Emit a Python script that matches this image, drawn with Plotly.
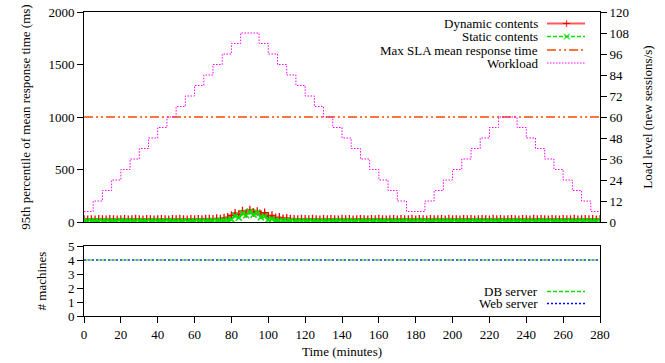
import plotly.graph_objects as go

# ---------------- data ----------------
time_step_min = 2
dynamic_ms = [
    24, 22, 25, 23, 26, 24, 22, 27, 25, 23,
    24, 26, 22, 25, 28, 24, 23, 26, 25, 22,
    24, 27, 25, 23, 26, 24, 28, 25, 23, 26,
    24, 27, 25, 30, 28, 26, 33, 29, 38, 45,
    62, 85, 70, 105, 80, 115, 90, 100, 72, 88,
    55, 62, 40, 45, 32, 36, 29, 27, 25, 29,
    26, 24, 28, 25, 23, 27, 24, 26, 25, 23,
    28, 24, 26, 22, 25, 27, 24, 23, 26, 25,
    28, 24, 22, 25, 27, 23, 26, 24, 25, 28,
    23, 26, 24, 22, 27, 25, 24, 26, 23, 28,
    25, 24, 22, 26, 25, 27, 23, 24, 26, 25,
    22, 28, 24, 26, 23, 25, 27, 24, 22, 26,
    25, 23, 28, 24, 26, 25, 23, 27, 24, 22,
    26, 25, 24, 28, 23, 25, 26, 24, 27, 23,
    25,
]
static_ms = [
    8, 7, 9, 8, 6, 8, 9, 7, 8, 6,
    9, 8, 7, 8, 6, 9, 8, 7, 8, 9,
    7, 8, 6, 9, 8, 7, 8, 9, 6, 8,
    7, 9, 8, 8, 10, 9, 11, 12, 14, 18,
    25, 60, 40, 85, 65, 100, 70, 90, 45, 55,
    22, 30, 15, 12, 10, 9, 11, 8, 9, 7,
    8, 9, 7, 8, 6, 9, 8, 7, 8, 9,
    7, 8, 9, 6, 8, 7, 9, 8, 7, 8,
    9, 7, 8, 6, 9, 8, 7, 9, 8, 7,
    8, 9, 7, 8, 6, 8, 9, 7, 8, 9,
    7, 8, 9, 8, 7, 6, 9, 8, 7, 8,
    9, 7, 8, 9, 6, 8, 7, 9, 8, 7,
    8, 9, 7, 8, 9, 7, 8, 6, 9, 8,
    7, 8, 9, 7, 8, 9, 6, 8, 7, 9,
    8,
]
time_min = [i * time_step_min for i in range(len(dynamic_ms))]

workload_t = [0, 5, 10, 15, 20, 25, 30, 35, 40, 45, 50, 55, 60, 65, 70, 75, 80, 85,
              95, 100, 105, 110, 115, 120, 125, 130, 135, 140, 145, 150, 155, 160, 165, 170, 175,
              185, 190, 195, 200, 205, 210, 215, 220, 225,
              235, 240, 245, 250, 255, 260, 265, 270, 275, 280]
workload_level = [6, 12, 18, 24, 30, 36, 42, 48, 54, 60, 66, 72, 78, 84, 90, 96, 102, 108,
                  102, 96, 90, 84, 78, 72, 66, 60, 54, 48, 42, 36, 30, 24, 18, 12, 6,
                  12, 18, 24, 30, 36, 42, 48, 54, 60,
                  54, 48, 42, 36, 30, 24, 18, 12, 6, 6]

sla_t = [0, 280]
sla_ms = [1000, 1000]

machines_t = [0, 280]
db_servers = [4, 4]
web_servers = [4, 4]

x_ticks = list(range(0, 281, 20))

# ---------------- figure ----------------
FONT = "Liberation Serif, Times New Roman, Times, serif"
RED_LINE = "rgba(255,60,60,0.85)"
RED_MK = "#ff0000"
GREEN = "#00e000"
ORANGE = "#ff4500"
MAGENTA = "#ff00ff"
BLUE = "#0000ff"
WL_DASH = "1.5px,1.5px"

fig = go.Figure()

fig.add_trace(go.Scatter(x=workload_t, y=workload_level, xaxis="x2", yaxis="y2",
                         mode="lines", line=dict(color=MAGENTA, width=1, dash=WL_DASH, shape="hv"),
                         name="Workload"))
fig.add_trace(go.Scatter(x=sla_t, y=sla_ms, xaxis="x2", yaxis="y",
                         mode="lines", line=dict(color=ORANGE, width=1.3, dash="9px,3px,2px,3px,2px,3px"),
                         name="Max SLA mean response time"))
fig.add_trace(go.Scatter(x=time_min, y=dynamic_ms, xaxis="x2", yaxis="y",
                         mode="lines+markers", line=dict(color=RED_LINE, width=2),
                         marker=dict(symbol="cross-thin", size=6, color=RED_MK,
                                     line=dict(color=RED_MK, width=1.3)),
                         name="Dynamic contents"))
fig.add_trace(go.Scatter(x=time_min, y=static_ms, xaxis="x2", yaxis="y",
                         mode="lines+markers", line=dict(color=GREEN, width=2.5, dash="4px,2px"),
                         marker=dict(symbol="x-thin", size=6, color=GREEN,
                                     line=dict(color=GREEN, width=1.5)),
                         name="Static contents"))

fig.add_trace(go.Scatter(x=machines_t, y=db_servers, xaxis="x", yaxis="y3",
                         mode="lines", line=dict(color=GREEN, width=1.2, dash="4px,2px"),
                         name="DB server"))
fig.add_trace(go.Scatter(x=machines_t, y=web_servers, xaxis="x", yaxis="y3",
                         mode="lines", line=dict(color=BLUE, width=1.2, dash="2px,2px"),
                         name="Web server"))

L, R, T, B = 84, 65, 12, 47
W, H = 665, 363
PW, PH = W - L - R, H - T - B


def px_x(px):
    return (px - L) / PW


def px_y(py):
    return (H - B - py) / PH


top_dom = [px_y(222), 1.0]
bot_dom = [0.0, px_y(246)]

axis_common = dict(showline=True, linecolor="black", linewidth=1, mirror=True,
                   showgrid=False, zeroline=False, ticks="outside", ticklen=6,
                   tickcolor="black", automargin=False,
                   tickfont=dict(family=FONT, size=13, color="black"))

fig.update_layout(
    width=W, height=H,
    margin=dict(l=L, r=R, t=T, b=B, autoexpand=False),
    paper_bgcolor="white", plot_bgcolor="white",
    showlegend=False,
    font=dict(family=FONT, size=13, color="black"),
    xaxis=dict(axis_common, domain=[0, 1], anchor="y3", range=[0, 280],
               tickvals=x_ticks, title=dict(text="Time (minutes)", standoff=6,
                                              font=dict(family=FONT, size=13))),
    xaxis2=dict(axis_common, domain=[0, 1], anchor="y", range=[0, 280], matches="x",
                ticks="", showticklabels=False),
    yaxis=dict(axis_common, domain=top_dom, anchor="x2", range=[0, 2000], dtick=500,
               title=dict(text="95th percentile of mean response time (ms)", standoff=14,
                          font=dict(family=FONT, size=13))),
    yaxis2=dict(axis_common, overlaying="y", side="right", anchor="x2", range=[0, 120],
                dtick=12, mirror=False,
                title=dict(text="Load level (new sessions/s)", standoff=14,
                           font=dict(family=FONT, size=13))),
    yaxis3=dict(axis_common, domain=bot_dom, anchor="x", range=[0, 5], dtick=1,
                title=dict(text="# machines", standoff=18, font=dict(family=FONT, size=13))),
)

# ---------------- custom legends (text right-aligned, sample on the right) ----------------
legend_top = [
    ("Dynamic contents", 23.5, dict(color=RED_LINE, width=2, dash="solid"), ("+", RED_MK)),
    ("Static contents", 36.5, dict(color=GREEN, width=1.3, dash="4px,2px"), ("×", GREEN)),
    ("Max SLA mean response time", 50, dict(color=ORANGE, width=1.3, dash="9px,3px,2px,3px,2px,3px"), None),
    ("Workload", 63, dict(color=MAGENTA, width=1, dash=WL_DASH), None),
]
legend_bot = [
    ("DB server", 291.5, dict(color=GREEN, width=1.3, dash="4px,2px"), None),
    ("Web server", 303.5, dict(color=BLUE, width=1.3, dash="2px,2px"), None),
]
for label, py, ln, mk in legend_top + legend_bot:
    fig.add_annotation(x=px_x(539), y=px_y(py), xref="paper", yref="paper",
                       text=label, showarrow=False, xanchor="right", yanchor="middle",
                       borderpad=0,
                       font=dict(family=FONT, size=13, color="black"))
    fig.add_shape(type="line", xref="paper", yref="paper",
                  x0=px_x(547), x1=px_x(585), y0=px_y(py), y1=px_y(py), line=ln)
    if mk:
        fig.add_annotation(x=px_x(566), y=px_y(py), xref="paper", yref="paper",
                           text=mk[0], showarrow=False, xanchor="center", yanchor="middle",
                           borderpad=0,
                           font=dict(family="DejaVu Sans", size=11, color=mk[1]))

fig.write_html("out.html")
